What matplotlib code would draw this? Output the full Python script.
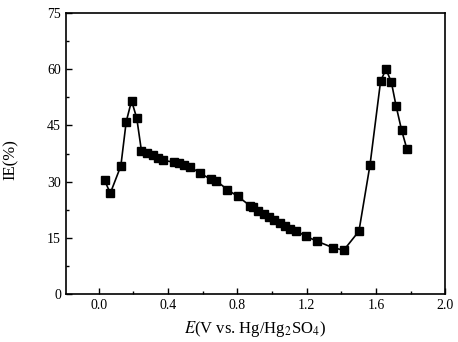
import matplotlib
matplotlib.use("Agg")
import matplotlib.pyplot as plt
from matplotlib.ticker import MultipleLocator

# potential (V vs. Hg/Hg2SO4) and inhibition efficiency (%)
potential = [0.033, 0.066, 0.127, 0.158, 0.189, 0.219, 0.246, 0.279, 0.310, 0.340,
             0.371, 0.433, 0.462, 0.494, 0.525, 0.587, 0.648, 0.677, 0.741, 0.802,
             0.875, 0.890, 0.921, 0.952, 0.983, 1.014, 1.044, 1.075, 1.106, 1.137,
             1.198, 1.260, 1.352, 1.414, 1.502, 1.566, 1.627, 1.658, 1.689, 1.716,
             1.748, 1.779]
ie = [30.4, 26.9, 34.2, 46.0, 51.6, 46.9, 38.2, 37.7, 37.0, 36.3,
      35.7, 35.2, 35.0, 34.5, 34.0, 32.2, 30.6, 30.3, 27.9, 26.1,
      23.5, 23.3, 22.2, 21.4, 20.5, 19.8, 19.0, 18.2, 17.5, 16.9,
      15.4, 14.1, 12.4, 11.7, 16.8, 34.5, 56.8, 60.0, 56.6, 50.3,
      43.8, 38.7]

x_ticks = [0.0, 0.4, 0.8, 1.2, 1.6, 2.0]
x_tick_labels = ["0.0", "0.4", "0.8", "1.2", "1.6", "2.0"]
y_ticks = [0, 15, 30, 45, 60, 75]

plt.rcParams["font.family"] = ["Liberation Serif", "DejaVu Serif"]
plt.rcParams["mathtext.fontset"] = "stix"

fig = plt.figure(figsize=(4.58, 3.42), dpi=100)
ax = fig.add_axes([0.144, 0.140, 0.828, 0.822])

ax.plot(potential, ie, color="black", linewidth=1.2, marker="s",
        markersize=6, markerfacecolor="black", markeredgecolor="black")

ax.set_xlim(-0.19, 2.0)
ax.set_ylim(0, 75)
ax.set_xticks(x_ticks)
ax.set_xticklabels(x_tick_labels)
ax.set_yticks(y_ticks)
ax.xaxis.set_minor_locator(MultipleLocator(0.2))
ax.yaxis.set_minor_locator(MultipleLocator(7.5))
ax.tick_params(which="both", direction="in", top=False, right=False,
               labelsize=10, width=1)
ax.tick_params(which="major", length=4)
ax.tick_params(which="minor", length=2.5)
for s in ax.spines.values():
    s.set_linewidth(1.2)

ax.set_xlabel(r"$\mathit{E}$(V vs. Hg/Hg$_2$SO$_4$)", fontsize=12, labelpad=5)
ax.set_ylabel("IE(%)", fontsize=12)
ax.yaxis.set_label_coords(-0.125, 0.477)

fig.savefig("out.png", dpi=100)
